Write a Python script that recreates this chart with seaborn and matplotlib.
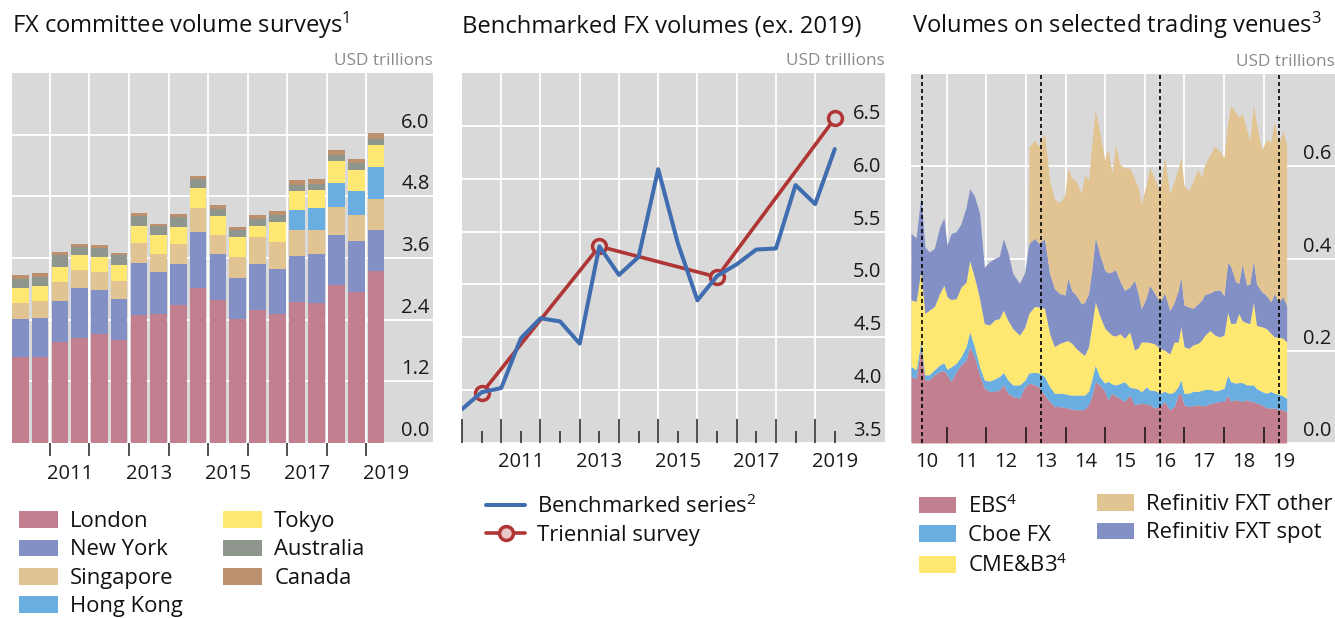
import numpy as np
import matplotlib
matplotlib.use("Agg")
import matplotlib.pyplot as plt
import matplotlib.transforms as mtransforms
from matplotlib.patches import Patch
from matplotlib.lines import Line2D
from matplotlib.ticker import NullFormatter
import seaborn as sns

# ---------------- data: FX committee volume surveys (USD trillions) ----------------
survey_periods = ["Apr 2010", "Oct 2010", "Apr 2011", "Oct 2011", "Apr 2012", "Oct 2012",
                  "Apr 2013", "Oct 2013", "Apr 2014", "Oct 2014", "Apr 2015", "Oct 2015",
                  "Apr 2016", "Oct 2016", "Apr 2017", "Oct 2017", "Apr 2018", "Oct 2018",
                  "Apr 2019"]
london = [1.67, 1.68, 1.97, 2.04, 2.13, 2.00, 2.50, 2.52, 2.68, 3.01, 2.79, 2.41, 2.59, 2.52,
          2.75, 2.72, 3.07, 2.93, 3.34]
new_york = [0.75, 0.76, 0.80, 0.98, 0.85, 0.80, 1.00, 0.81, 0.81, 1.09, 0.88, 0.81, 0.89, 0.87,
            0.89, 0.95, 0.98, 1.00, 0.81]
singapore = [0.30, 0.32, 0.36, 0.35, 0.35, 0.36, 0.39, 0.34, 0.38, 0.48, 0.38, 0.40, 0.52, 0.52,
             0.50, 0.48, 0.54, 0.51, 0.59]
hong_kong = [0, 0, 0, 0, 0, 0, 0, 0, 0, 0, 0, 0, 0, 0, 0.40, 0.42, 0.47, 0.47, 0.63]
tokyo = [0.29, 0.29, 0.29, 0.29, 0.28, 0.30, 0.34, 0.38, 0.34, 0.39, 0.36, 0.39, 0.22, 0.39,
         0.36, 0.36, 0.42, 0.41, 0.43]
australia = [0.19, 0.19, 0.23, 0.16, 0.19, 0.19, 0.18, 0.17, 0.18, 0.16, 0.14, 0.13, 0.14, 0.14,
             0.13, 0.11, 0.12, 0.12, 0.12]
canada = [0.07, 0.07, 0.06, 0.06, 0.05, 0.05, 0.06, 0.05, 0.06, 0.06, 0.08, 0.07, 0.07, 0.07,
          0.08, 0.09, 0.10, 0.09, 0.11]
centres = ["London", "New York", "Singapore", "Hong Kong", "Tokyo", "Australia", "Canada"]
left_year_labels = ["2011", "2013", "2015", "2017", "2019"]

# ---------------- data: benchmarked FX volumes ----------------
bench_years = [2010.0, 2010.5, 2011.0, 2011.5, 2012.0, 2012.5, 2013.0, 2013.5, 2014.0, 2014.5,
               2015.0, 2015.5, 2016.0, 2016.5, 2017.0, 2017.5, 2018.0, 2018.5, 2019.0, 2019.5]
bench_vals = [3.82, 3.98, 4.02, 4.49, 4.68, 4.65, 4.44, 5.36, 5.09, 5.26,
              6.09, 5.39, 4.85, 5.08, 5.19, 5.33, 5.34, 5.94, 5.76, 6.28]
tri_years = [2010.5, 2013.5, 2016.5, 2019.5]
tri_vals = [3.97, 5.36, 5.07, 6.57]
mid_year_labels = ["", "2011", "", "2013", "", "2015", "", "2017", "", "2019"]

# ---------------- data: volumes on selected trading venues ----------------
venue_years = [2010.10, 2010.23, 2010.35, 2010.45, 2010.56, 2010.69, 2010.82, 2010.93, 2011.01,
               2011.11, 2011.24, 2011.36, 2011.49, 2011.58, 2011.70, 2011.83, 2011.95, 2012.08,
               2012.21, 2012.33, 2012.43, 2012.54, 2012.67, 2012.84, 2012.97, 2013.06, 2013.08,
               2013.22, 2013.32, 2013.47, 2013.60, 2013.72, 2013.85, 2013.98, 2014.06, 2014.16,
               2014.27, 2014.40, 2014.48, 2014.58, 2014.67, 2014.75, 2014.86, 2014.99, 2015.07,
               2015.17, 2015.26, 2015.37, 2015.49, 2015.62, 2015.74, 2015.83, 2015.91, 2016.04,
               2016.12, 2016.25, 2016.38, 2016.50, 2016.63, 2016.74, 2016.84, 2016.91, 2016.99,
               2017.11, 2017.22, 2017.34, 2017.43, 2017.51, 2017.64, 2017.77, 2017.89, 2018.00,
               2018.09, 2018.17, 2018.29, 2018.37, 2018.46, 2018.57, 2018.65, 2018.74, 2018.82,
               2018.95, 2019.07, 2019.18, 2019.27, 2019.37, 2019.49, 2019.58]
ebs = [.144, .140, .209, .137, .137, .148, .155, .157, .148, .133, .155, .169, .180, .209, .187,
       .148, .119, .112, .112, .115, .126, .108, .101, .097, .122, .128, .130, .126, .122, .104,
       .090, .079, .079, .077, .076, .073, .072, .072, .073, .083, .104, .133, .126, .112, .094,
       .108, .102, .097, .090, .104, .083, .085, .086, .085, .083, .076, .079, .090, .072, .079,
       .104, .108, .083, .079, .081, .083, .081, .081, .085, .088, .090, .090, .104, .090, .094,
       .092, .090, .094, .091, .090, .086, .083, .076, .076, .076, .073, .072, .068]
cboe = [.022, .019, .011, .011, .011, .011, .014, .017, .012, .032, .018, .018, .029, .032, .022,
        .018, .018, .022, .027, .029, .027, .029, .025, .029, .014, .022, .022, .027, .030, .040,
        .032, .029, .029, .030, .029, .031, .032, .032, .031, .029, .036, .036, .018, .018, .040,
        .020, .024, .032, .043, .017, .036, .032, .025, .037, .032, .038, .029, .022, .035, .032,
        .018, .029, .025, .029, .031, .029, .033, .035, .032, .025, .025, .029, .043, .043, .036,
        .039, .041, .032, .035, .036, .032, .029, .032, .036, .032, .033, .030, .029]
cme_b3 = [.144, .148, .155, .133, .140, .137, .155, .168, .157, .146, .140, .151, .140, .155, .151,
          .148, .122, .122, .128, .126, .135, .130, .122, .108, .115, .127, .130, .143, .143, .148,
          .115, .101, .108, .113, .117, .112, .101, .091, .086, .097, .119, .137, .133, .119, .108,
          .106, .106, .108, .094, .120, .083, .089, .108, .097, .103, .101, .097, .089, .086, .108,
          .097, .115, .101, .097, .101, .104, .109, .117, .127, .121, .115, .115, .137, .126, .130,
          .150, .134, .135, .133, .180, .137, .140, .140, .126, .122, .124, .125, .122]
fxt_spot = [.144, .138, .162, .144, .126, .126, .144, .146, .112, .143, .145, .137, .162, .155, .176,
            .184, .122, .137, .133, .135, .155, .148, .119, .112, .119, .148, .151, .148, .138, .151,
            .130, .126, .108, .101, .135, .114, .115, .107, .115, .115, .122, .140, .133, .126, .127,
            .137, .144, .115, .104, .097, .151, .119, .072, .097, .124, .109, .101, .124, .094, .086,
            .112, .108, .090, .090, .079, .086, .086, .089, .081, .097, .102, .086, .108, .124, .090,
            .065, .124, .081, .086, .090, .090, .076, .072, .068, .094, .076, .090, .079]
fxt_other = [0, 0, 0, 0, 0, 0, 0, 0, 0, 0, 0, 0, 0, 0, 0,
             0, 0, 0, 0, 0, 0, 0, 0, 0, 0, 0, .209, .212, .211, .227,
             .202, .194, .197, .216, .238, .244, .248, .238, .277, .245, .274, .274, .266, .238, .269,
             .212, .272, .252, .265, .258, .220, .230, .227, .245, .256, .248, .241, .295, .252, .263,
             .263, .259, .259, .252, .277, .292, .266, .281, .299, .313, .300, .299, .299, .350, .367,
             .361, .325, .338, .310, .337, .346, .307, .338, .346, .374, .342, .360, .346]
survey_dates = [2010.37, 2013.37, 2016.38, 2019.38]
venue_labels = ["EBS$\\mathregular{^4}$", "Cboe FX", "CME&B3$\\mathregular{^4}$",
                "Refinitiv FXT other", "Refinitiv FXT spot"]
right_year_labels = ["10", "11", "12", "13", "14", "15", "16", "17", "18", "19"]

# ---------------- styling ----------------
C_PINK = "#C27F8F"
C_PURP = "#8290C6"
C_TAN = "#E2C392"
C_LBLUE = "#6AADE0"
C_YEL = "#FFE872"
C_GREY = "#8F968E"
C_BROWN = "#BC906F"
C_BLUE = "#3F6DB0"
C_RED = "#B03535"
BG = "#D9D9D9"

sns.set_theme(style="darkgrid", rc={"axes.facecolor": BG, "figure.facecolor": "white",
                                    "grid.color": "white"})
plt.rcParams["font.family"] = ["Open Sans", "DejaVu Sans"]

W, H = 1335, 618
fig = plt.figure(figsize=(W / 100, H / 100), dpi=100)


def px_axes(x0, x1, y0, y1):
    return fig.add_axes([x0 / W, 1 - y1 / H, (x1 - x0) / W, (y1 - y0) / H])


TICK_FS = 14.5
LEG_FS = 15.8


def style_y(ax, yticks, fmt):
    ax.set_axisbelow(False)
    ax.grid(False)
    for s in ax.spines.values():
        s.set_visible(False)
    ax.set_yticks(yticks, labels=[fmt.format(v) for v in yticks])
    ax.yaxis.tick_right()
    ax.tick_params(axis="y", which="both", length=0, pad=-2.5, labelsize=TICK_FS,
                   labelcolor="#1a1a1a", left=False, right=False, labelleft=False,
                   labelright=True)
    off = mtransforms.ScaledTranslation(0, 5 / 72, fig.dpi_scale_trans)
    for lab in ax.get_yticklabels():
        lab.set_horizontalalignment("right")
        lab.set_verticalalignment("baseline")
        lab.set_transform(lab.get_transform() + off)
    for v in yticks:
        ax.axhline(v, color="white", lw=1.3, zorder=0.8)


def title(ax_x_px, text):
    fig.text(ax_x_px / W, 1 - 33 / H, text, ha="left", va="baseline", fontsize=17.1,
             color="#111111")


def units(ax):
    ax.annotate("USD trillions", xy=(1, 1), xycoords="axes fraction", xytext=(0, 6),
                textcoords="offset points", ha="right", va="baseline", fontsize=12.3,
                color="#8A8A8A")


# ---------------- left panel: stacked bars ----------------
axL = px_axes(12, 433, 73, 443)
pos = np.arange(len(survey_periods))
series = [london, new_york, singapore, hong_kong, tokyo, australia, canada]
cols_L = [C_PINK, C_PURP, C_TAN, C_LBLUE, C_YEL, C_GREY, C_BROWN]
bottom = np.zeros(len(pos))
for vals, c in zip(series, cols_L):
    vals = np.asarray(vals, dtype=float)
    axL.bar(pos, vals, width=0.84, bottom=bottom, color=c, linewidth=0, zorder=2)
    bottom += vals
axL.set_xlim(-0.42, 20.88)
axL.set_ylim(0, 7.2)
style_y(axL, [0.0, 1.2, 2.4, 3.6, 4.8, 6.0], "{:.1f}")
year_bounds = [i - 0.5 for i in range(2, len(pos), 2)]
axL.set_xticks(year_bounds)
axL.xaxis.set_major_formatter(NullFormatter())
axL.set_xticks([b + 1 for b in year_bounds[::2]], labels=left_year_labels, minor=True)
axL.tick_params(axis="x", which="major", direction="out", length=9.4, width=1.1,
                color="#222222", bottom=True)
axL.tick_params(axis="x", which="minor", length=0, pad=15, labelsize=TICK_FS,
                labelcolor="#1a1a1a", bottom=True)
for b in year_bounds:
    axL.axvline(b, color="white", lw=1.3, zorder=0.8)
title(12, "FX committee volume surveys$\\mathregular{^1}$")
units(axL)

# ---------------- middle panel: lines ----------------
axM = px_axes(462, 885, 73, 443)
sns.lineplot(x=tri_years, y=tri_vals, ax=axM, color=C_RED, lw=2.6, marker="o", markersize=10,
             markerfacecolor=BG, markeredgecolor=C_RED, markeredgewidth=2.5, zorder=3,
             legend=False)
sns.lineplot(x=bench_years, y=bench_vals, ax=axM, color=C_BLUE, lw=2.9, zorder=4, legend=False)
axM.set_xlim(2010.0, 2020.78)
axM.set_ylim(3.5, 7.0)
axM.set_xlabel("")
axM.set_ylabel("")
style_y(axM, [3.5, 4.0, 4.5, 5.0, 5.5, 6.0, 6.5], "{:.1f}")
years_M = list(range(2010, 2020))
axM.set_xticks(years_M)
axM.xaxis.set_major_formatter(NullFormatter())
axM.set_xticks([y + 0.5 for y in years_M], labels=mid_year_labels, minor=True)
axM.tick_params(axis="x", which="major", direction="in", length=17.3, width=1.1,
                color="#222222", bottom=True)
axM.tick_params(axis="x", which="minor", direction="in", length=8.6, width=1.1,
                color="#222222", pad=6.5, labelsize=TICK_FS, labelcolor="#1a1a1a", bottom=True)
for y in years_M[1:]:
    axM.axvline(y, color="white", lw=1.3, zorder=0.8)
title(462, "Benchmarked FX volumes (ex. 2019)")
units(axM)

# ---------------- right panel: stacked areas ----------------
axR = px_axes(911, 1335, 74, 443)
cols_R = [C_PINK, C_LBLUE, C_YEL, C_PURP, C_TAN]
axR.stackplot(venue_years, ebs, cboe, cme_b3, fxt_spot, fxt_other, colors=cols_R,
              linewidth=0, zorder=2)
for d in survey_dates:
    axR.axvline(d, color="black", lw=1.2, ls=(0, (2.4, 1.8)), zorder=3)
axR.set_xlim(2010.1, 2020.8)
axR.set_ylim(0, 0.8)
style_y(axR, [0.0, 0.2, 0.4, 0.6], "{:.1f}")
years_R = list(range(2011, 2020))
axR.set_xticks(years_R)
axR.xaxis.set_major_formatter(NullFormatter())
axR.set_xticks([y + 0.5 for y in range(2010, 2020)], labels=right_year_labels, minor=True)
axR.tick_params(axis="x", which="major", direction="in", length=11.5, width=1.1,
                color="#111111", bottom=True)
axR.tick_params(axis="x", which="minor", length=0, pad=6.5, labelsize=TICK_FS,
                labelcolor="#1a1a1a", bottom=True)
for y in years_R:
    axR.axvline(y, color="white", lw=1.3, zorder=0.8)
title(912, "Volumes on selected trading venues$\\mathregular{^3}$")
units(axR)

# ---------------- legends ----------------
LSP = 0.34


def patch_legend(labels, colors, x_px, y_px, hl):
    handles = [Patch(facecolor=c, edgecolor="none", label=l) for l, c in zip(labels, colors)]
    leg = fig.legend(handles=handles, loc="upper left", bbox_to_anchor=(x_px / W, 1 - y_px / H),
                     frameon=False, fontsize=LEG_FS, handlelength=hl, handleheight=0.78,
                     handletextpad=0.55, labelspacing=LSP, borderpad=0, borderaxespad=0)
    for t in leg.get_texts():
        t.set_color("#111111")
    return leg


patch_legend(centres[:4], cols_L[:4], 19, 511, 1.78)
patch_legend(centres[4:], cols_L[4:], 223, 511, 1.78)

mid_handles = [Line2D([], [], color=C_BLUE, lw=2.9),
               Line2D([], [], color=C_RED, lw=2.6, marker="o", markersize=10,
                      markerfacecolor="#E9C9C9", markeredgecolor=C_RED, markeredgewidth=2.5)]
legM = fig.legend(handles=mid_handles,
                  labels=["Benchmarked series$\\mathregular{^2}$", "Triennial survey"],
                  loc="upper left", bbox_to_anchor=(486 / W, 1 - 494 / H), frameon=False,
                  fontsize=LEG_FS, handlelength=1.78, handletextpad=0.55, labelspacing=LSP,
                  borderpad=0, borderaxespad=0)
for t in legM.get_texts():
    t.set_color("#111111")

patch_legend(venue_labels[:3], cols_R[:3], 919, 494, 1.69)
patch_legend([venue_labels[3], venue_labels[4]], [C_TAN, C_PURP], 1097, 494, 1.69)

fig.savefig("out.png", dpi=100)
